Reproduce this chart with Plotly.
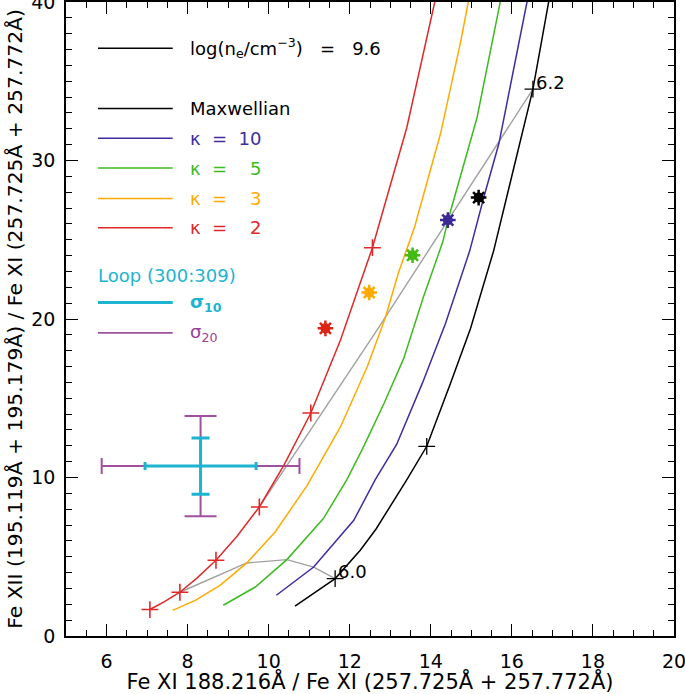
import plotly.graph_objects as go

# ---------------- data ----------------
black_x = [10.65, 11.64, 12.26, 12.65, 13.41, 13.90, 14.48, 14.98, 15.55, 16.00, 16.52, 16.95]
black_y = [1.89, 3.62, 5.41, 6.75, 9.87, 11.97, 15.9, 19.4, 24.3, 29.0, 34.5, 40.6]

blue_x = [10.19, 11.11, 12.10, 12.63, 13.16, 13.80, 14.36, 14.96, 15.31, 15.68, 16.42]
blue_y = [2.57, 4.35, 7.30, 9.87, 12.10, 16.0, 19.7, 24.3, 27.7, 31.07, 40.6]

green_x = [8.88, 9.67, 10.45, 11.35, 11.93, 12.34, 12.85, 13.33, 13.82, 14.30, 14.42, 15.14, 15.76]
green_y = [1.94, 3.09, 4.82, 7.41, 9.87, 11.93, 14.7, 17.5, 21.4, 24.9, 26.2, 32.7, 40.6]

yellow_x = [7.63, 8.19, 8.80, 9.46, 10.16, 10.95, 11.77, 12.43, 12.88, 13.20, 13.60, 14.24, 14.73, 14.97]
yellow_y = [1.62, 2.25, 3.20, 4.61, 6.56, 9.50, 13.19, 16.97, 20.1, 22.9, 25.8, 31.7, 37.4, 40.6]

red_x = [7.07, 7.42, 7.81, 8.23, 8.70, 9.22, 9.77, 10.38, 11.04, 11.77, 12.56, 13.41, 14.15]
red_y = [1.67, 2.15, 2.76, 3.65, 4.78, 6.30, 8.14, 10.80, 14.07, 18.66, 24.50, 32.10, 40.6]

# temperature tick marks (+)
red_mark_x = [7.07, 7.81, 8.70, 9.77, 11.04, 12.56]
red_mark_y = [1.67, 2.76, 4.78, 8.14, 14.07, 24.50]
black_mark_x = [11.64, 13.90, 16.52]
black_mark_y = [3.62, 11.97, 34.5]

# iso-temperature lines log T = 6.0 and 6.2
t60_x = [7.81, 9.46, 10.45, 11.11, 11.64]
t60_y = [2.76, 4.61, 4.82, 4.35, 3.62]
t62_x = [9.77, 12.62, 14.42, 15.60, 16.52]
t62_y = [8.14, 19.1, 26.2, 30.9, 34.5]
t_labels = ["6.0", "6.2"]

# observed asterisks
star_x = [11.40, 12.48, 13.55, 14.42, 15.18]
star_y = [19.41, 21.67, 24.02, 26.24, 27.66]
star_colors = ["#DD2414", "#FFAA00", "#44BB14", "#3C2896", "#000000"]

# loop error cross
loop_x = [8.32]
loop_y = [10.72]
sig10_x, sig10_y = [1.37], [1.78]
sig20_x, sig20_y = [2.44], [3.16]

x_range = [5, 20]
y_range = [0, 40]

C_BLACK = "#000000"
C_BLUE = "#3C2DA0"
C_GREEN = "#3CBB1E"
C_YELLOW = "#FFAA00"
C_RED = "#E02828"
C_CYAN = "#1EB4CF"
C_PURPLE = "#A0509F"
C_GRAY = "#A0A0A0"
FONT = "DejaVu Sans"

fig = go.Figure()

# gray iso-T lines
for gx, gy in [(t60_x, t60_y), (t62_x, t62_y)]:
    fig.add_trace(go.Scatter(x=gx, y=gy, mode="lines",
                             line=dict(color=C_GRAY, width=1.4), hoverinfo="skip"))

# error cross (sigma20 then sigma10 on top)
fig.add_trace(go.Scatter(x=loop_x, y=loop_y, mode="markers",
                         marker=dict(size=0.1, color=C_PURPLE),
                         error_x=dict(type="data", array=sig20_x, color=C_PURPLE, thickness=2, width=8),
                         error_y=dict(type="data", array=sig20_y, color=C_PURPLE, thickness=2, width=16)))
fig.add_trace(go.Scatter(x=loop_x, y=loop_y, mode="markers",
                         marker=dict(size=0.1, color=C_CYAN),
                         error_x=dict(type="data", array=sig10_x, color=C_CYAN, thickness=3, width=4),
                         error_y=dict(type="data", array=sig10_y, color=C_CYAN, thickness=3, width=9)))

# model curves
for cx, cy, col in [(black_x, black_y, C_BLACK), (blue_x, blue_y, C_BLUE),
                    (green_x, green_y, C_GREEN), (yellow_x, yellow_y, C_YELLOW),
                    (red_x, red_y, C_RED)]:
    fig.add_trace(go.Scatter(x=cx, y=cy, mode="lines", line=dict(color=col, width=1.5)))

# + markers
fig.add_trace(go.Scatter(x=red_mark_x, y=red_mark_y, mode="markers",
                         marker=dict(symbol="cross-thin-open", size=12, color=C_RED,
                                     line=dict(color=C_RED, width=1.6))))
fig.add_trace(go.Scatter(x=black_mark_x, y=black_mark_y, mode="markers",
                         marker=dict(symbol="cross-thin-open", size=12, color=C_BLACK,
                                     line=dict(color=C_BLACK, width=1.3))))

# asterisks
fig.add_trace(go.Scatter(x=star_x, y=star_y, mode="markers",
                         marker=dict(symbol="circle", size=10, color=star_colors, line=dict(width=0))))
fig.add_trace(go.Scatter(x=star_x, y=star_y, mode="markers",
                         marker=dict(symbol="asterisk-open", size=13, color=star_colors,
                                     line=dict(color=star_colors, width=2.5))))

# iso-T labels
for lx, ly, lt in [(t60_x[-1], t60_y[-1], t_labels[0]), (t62_x[-1], t62_y[-1], t_labels[1])]:
    fig.add_annotation(x=lx, y=ly, text=lt, showarrow=False,
                       xanchor="left", yanchor="middle", xshift=1, yshift=7,
                       font=dict(family=FONT, size=18, color=C_BLACK))

# ---------------- hand-made legend ----------------
legend_rows = [
    ("log(n<sub>e</sub>/cm<sup>\u22123</sup>)\u00a0\u00a0\u00a0=\u00a0\u00a0\u00a09.6", C_BLACK, C_BLACK, 0.927, 1.5),
    ("Maxwellian", C_BLACK, C_BLACK, 0.832, 1.5),
    ("\u03ba\u00a0\u00a0=\u00a0\u00a010", C_BLUE, C_BLUE, 0.785, 1.5),
    ("\u03ba\u00a0\u00a0=\u00a0\u00a0\u00a0\u00a05", C_GREEN, C_GREEN, 0.738, 1.5),
    ("\u03ba\u00a0\u00a0=\u00a0\u00a0\u00a0\u00a03", C_YELLOW, C_YELLOW, 0.690, 1.5),
    ("\u03ba\u00a0\u00a0=\u00a0\u00a0\u00a0\u00a02", C_RED, C_RED, 0.644, 1.5),
    ("<b>\u03c3<sub>10</sub></b>", C_CYAN, C_CYAN, 0.526, 3),
    ("\u03c3<sub>20</sub>", "#9B3D99", C_PURPLE, 0.478, 1.8),
]
for txt, tcol, lcol, yy, lw in legend_rows:
    fig.add_shape(type="line", xref="paper", yref="paper", x0=0.0526, x1=0.1755, y0=yy, y1=yy,
                  line=dict(color=lcol, width=lw))
    fig.add_annotation(xref="paper", yref="paper", x=0.201, y=yy, text=txt, showarrow=False,
                       xanchor="left", yanchor="middle",
                       font=dict(family=FONT, size=18, color=tcol))
fig.add_annotation(xref="paper", yref="paper", x=0.05, y=0.569, text="Loop (300:309)",
                   showarrow=False, xanchor="left", yanchor="middle",
                   font=dict(family=FONT, size=18, color=C_CYAN))

axis_common = dict(showline=True, linecolor="black", linewidth=1.5, mirror="allticks",
                   ticks="inside", tickcolor="black", tickwidth=1.2, ticklen=12,
                   showgrid=False, zeroline=False, ticklabeloverflow="allow",
                   automargin=False,
                   tickfont=dict(family=FONT, size=19, color="black"))

fig.update_layout(
    width=685, height=694,
    margin=dict(l=66, r=11, t=2, b=58),
    paper_bgcolor="white", plot_bgcolor="white",
    showlegend=False,
    xaxis=dict(range=x_range, dtick=2, tick0=0,
               minor=dict(ticks="inside", ticklen=6, dtick=0.5, tickcolor="black", tickwidth=1.2),
               ticklabelstandoff=7,
               title=dict(text="Fe XI 188.216\u00c5 / Fe XI (257.725\u00c5 + 257.772\u00c5)",
                          font=dict(family=FONT, size=21, color="black"), standoff=2),
               **axis_common),
    yaxis=dict(range=y_range, dtick=10, tick0=0,
               minor=dict(ticks="inside", ticklen=6, dtick=1, tickcolor="black", tickwidth=1.2),
               ticklabelstandoff=5,
               title=dict(text="Fe XII (195.119\u00c5 + 195.179\u00c5) / Fe XI (257.725\u00c5 + 257.772\u00c5)",
                          font=dict(family=FONT, size=20.3, color="black"), standoff=3),
               **axis_common),
)

fig.write_html("out.html", config={"displayModeBar": False},
               post_script="document.body.style.margin='0';")
